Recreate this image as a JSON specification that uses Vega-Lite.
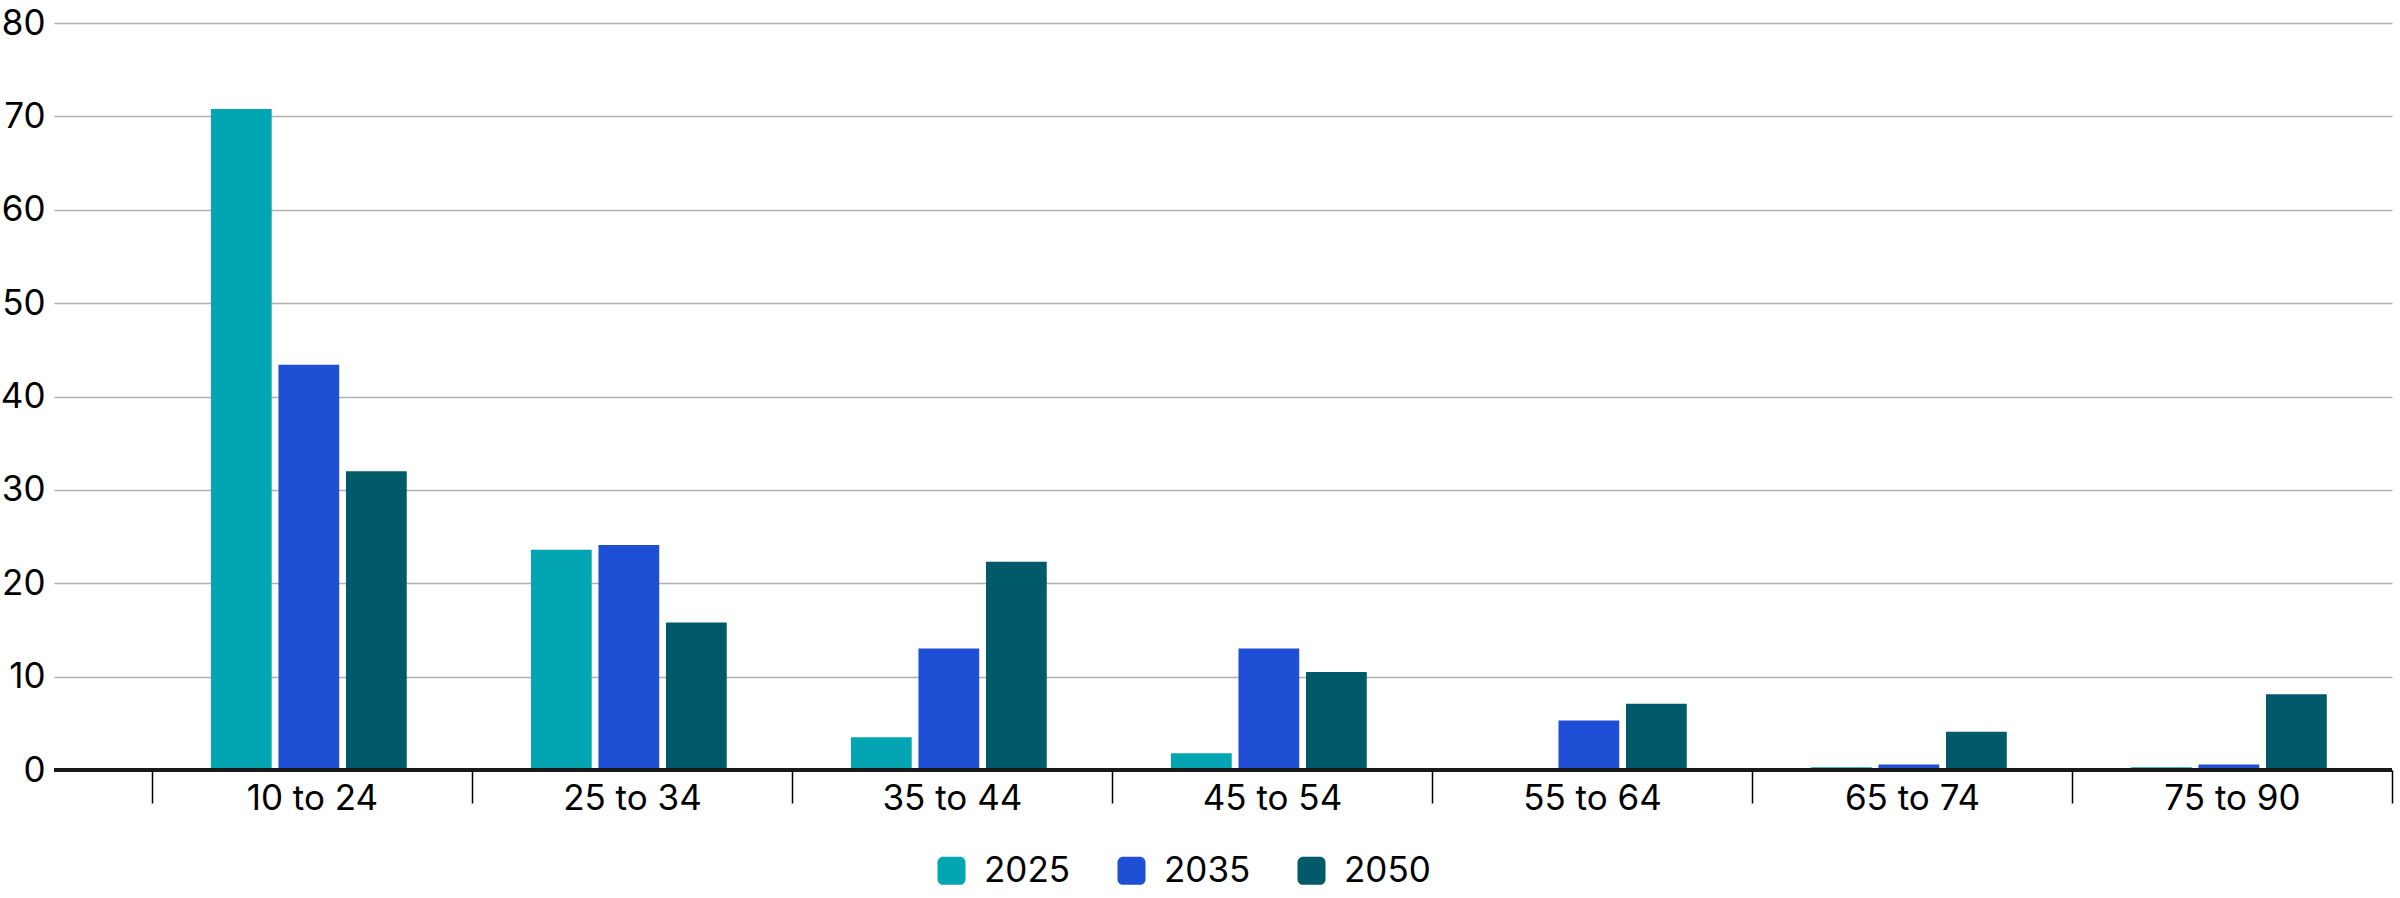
{
  "$schema": "https://vega.github.io/schema/vega-lite/v6.json",
  "width": 2338,
  "height": 747,
  "autosize": "none",
  "padding": {"left": 54, "top": 23, "right": 8, "bottom": 128},
  "background": "white",
  "config": {
    "font": "Inter",
    "view": {"stroke": null},
    "axis": {"labelFont": "Inter", "labelColor": "#000000", "labelFontSize": 35}
  },
  "data": {
    "values": [
      {"age": "10 to 24", "year": "2025", "value": 70.8},
      {"age": "10 to 24", "year": "2035", "value": 43.4},
      {"age": "10 to 24", "year": "2050", "value": 32.0},
      {"age": "25 to 34", "year": "2025", "value": 23.6},
      {"age": "25 to 34", "year": "2035", "value": 24.1},
      {"age": "25 to 34", "year": "2050", "value": 15.8},
      {"age": "35 to 44", "year": "2025", "value": 3.5},
      {"age": "35 to 44", "year": "2035", "value": 13.0},
      {"age": "35 to 44", "year": "2050", "value": 22.3},
      {"age": "45 to 54", "year": "2025", "value": 1.8},
      {"age": "45 to 54", "year": "2035", "value": 13.0},
      {"age": "45 to 54", "year": "2050", "value": 10.5},
      {"age": "55 to 64", "year": "2025", "value": 0},
      {"age": "55 to 64", "year": "2035", "value": 5.3},
      {"age": "55 to 64", "year": "2050", "value": 7.1},
      {"age": "65 to 74", "year": "2025", "value": 0.3},
      {"age": "65 to 74", "year": "2035", "value": 0.6},
      {"age": "65 to 74", "year": "2050", "value": 4.1},
      {"age": "75 to 90", "year": "2025", "value": 0.3},
      {"age": "75 to 90", "year": "2035", "value": 0.6},
      {"age": "75 to 90", "year": "2050", "value": 8.1}
    ]
  },
  "layer": [
    {
      "mark": {"type": "bar"},
      "encoding": {
        "x": {
          "field": "age",
          "type": "nominal",
          "title": null,
          "sort": null,
          "scale": {"paddingInner": 0, "paddingOuter": 0.153, "align": 1},
          "axis": {
            "domain": false,
            "labelAngle": 0,
            "tickBand": "extent",
            "ticks": true,
            "tickColor": "#000000",
            "tickWidth": 1.5,
            "tickSize": 33,
            "labelPadding": -22
          }
        },
        "xOffset": {
          "field": "year",
          "type": "nominal",
          "scale": {"paddingInner": 0.1, "paddingOuter": 0.92, "align": 0.475}
        },
        "y": {
          "field": "value",
          "type": "quantitative",
          "title": null,
          "scale": {"domain": [0, 80], "nice": false},
          "axis": {
            "values": [0, 10, 20, 30, 40, 50, 60, 70, 80],
            "domain": false,
            "ticks": false,
            "labelPadding": 9,
            "gridColor": "#b0b0b0",
            "gridWidth": 1.5
          }
        },
        "color": {
          "field": "year",
          "type": "nominal",
          "title": null,
          "scale": {
            "domain": ["2025", "2035", "2050"],
            "range": ["#04A5B3", "#1F4FD4", "#005A6A"]
          },
          "legend": {
            "orient": "none",
            "direction": "horizontal",
            "legendX": 880,
            "legendY": 830,
            "symbolType": "M -0.6 -1 L 0.6 -1 A 0.4 0.4 0 0 1 1 -0.6 L 1 0.6 A 0.4 0.4 0 0 1 0.6 1 L -0.6 1 A 0.4 0.4 0 0 1 -1 0.6 L -1 -0.6 A 0.4 0.4 0 0 1 -0.6 -1 Z",
            "symbolSize": 784,
            "symbolStrokeWidth": 0,
            "symbolOpacity": 1,
            "labelFont": "Inter",
            "labelFontSize": 35,
            "labelColor": "#000000",
            "labelOffset": 15,
            "columnPadding": 43
          }
        }
      }
    },
    {
      "mark": {"type": "rule", "color": "#1a1a1a", "strokeWidth": 3},
      "encoding": {"y": {"datum": 0}}
    }
  ]
}
